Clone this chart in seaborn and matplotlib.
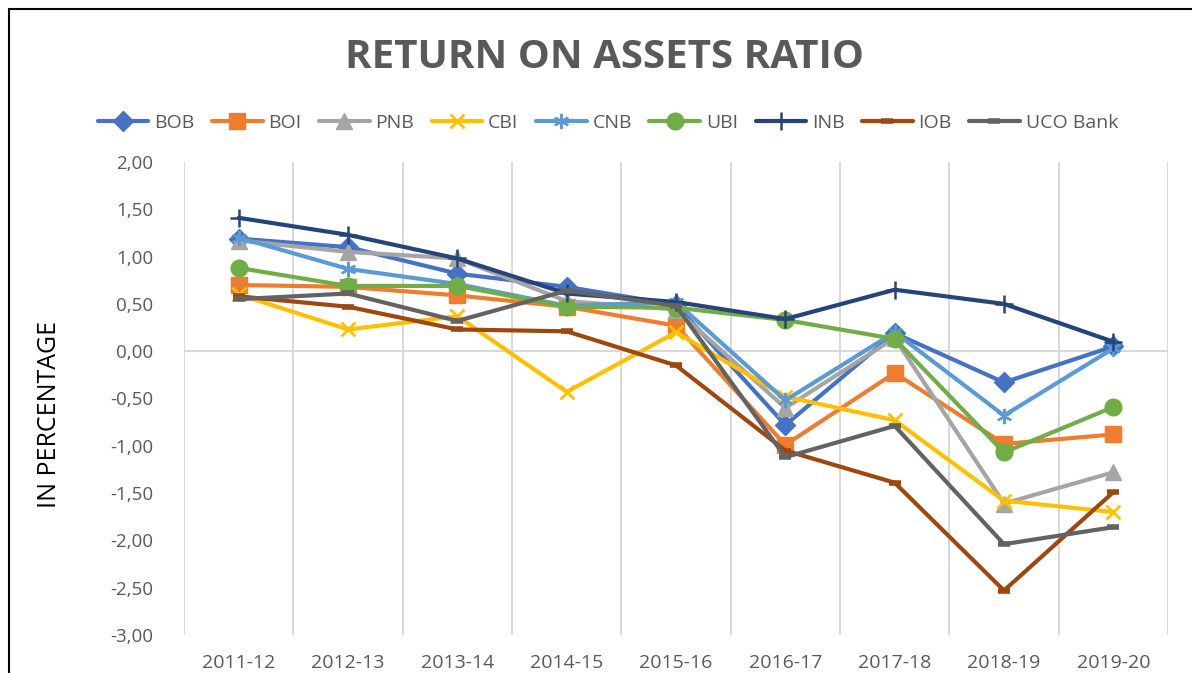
import matplotlib
matplotlib.use("Agg")
import matplotlib.pyplot as plt
import matplotlib.patches as patches
from matplotlib.ticker import FuncFormatter
import numpy as np
import seaborn as sns

years = ['2011-12', '2012-13', '2013-14', '2014-15', '2015-16',
         '2016-17', '2017-18', '2018-19', '2019-20']

bob = [1.19, 1.10, 0.82, 0.68, 0.49, -0.78, 0.19, -0.33, 0.05]
boi = [0.70, 0.68, 0.59, 0.47, 0.27, -0.99, -0.23, -0.98, -0.88]
pnb = [1.17, 1.05, 0.98, 0.53, 0.44, -0.60, 0.14, -1.61, -1.28]
cbi = [0.60, 0.23, 0.37, -0.43, 0.20, -0.48, -0.73, -1.58, -1.70]
cnb = [1.20, 0.87, 0.71, 0.48, 0.52, -0.52, 0.20, -0.68, 0.03]
ubi = [0.88, 0.69, 0.69, 0.47, 0.46, 0.33, 0.13, -1.07, -0.59]
inb = [1.41, 1.23, 0.98, 0.61, 0.52, 0.34, 0.65, 0.50, 0.10]
iob = [0.58, 0.47, 0.23, 0.21, -0.15, -1.05, -1.39, -2.53, -1.49]
uco = [0.55, 0.61, 0.32, 0.64, 0.48, -1.12, -0.79, -2.04, -1.86]

banks = ['BOB', 'BOI', 'PNB', 'CBI', 'CNB', 'UBI', 'INB', 'IOB', 'UCO Bank']
series = [bob, boi, pnb, cbi, cnb, ubi, inb, iob, uco]

colors = ['#4472C4', '#ED7D31', '#A5A5A5', '#FFC000', '#5B9BD5',
          '#70AD47', '#264478', '#9E480E', '#636363']
# marker, size, edge width
markers = [('D', 10, 1), ('s', 12, 1), ('^', 12, 1), ('x', 10, 2),
           ((6, 2, 0), 11, 1.6), ('o', 12, 1), ('+', 13, 1.8),
           ('_', 8, 4), ('_', 8, 4)]

sns.set_theme(style='white')
plt.rcParams['font.family'] = ['Open Sans', 'DejaVu Sans']

fig = plt.figure(figsize=(11.92, 6.73), dpi=100)
ax = fig.add_axes([184 / 1192, 38 / 673, (1168 - 184) / 1192, (635 - 162) / 673])

for b in np.arange(-0.5, len(years)):
    ax.axvline(b, color='#D9D9D9', lw=1.5, zorder=0)
ax.axhline(0, color='#D9D9D9', lw=1.5, zorder=0)

for name, vals, col, (m, ms, mew) in zip(banks, series, colors, markers):
    sns.lineplot(x=years, y=vals, ax=ax, color=col, label=name, sort=False,
                 linewidth=3, marker=m, markersize=ms,
                 markeredgecolor=col, markerfacecolor=col, markeredgewidth=mew)

ax.set_xlim(-0.5, len(years) - 0.5)
ax.set_ylim(-3, 2)
ax.set_yticks(np.arange(-3, 2.01, 0.5))
ax.yaxis.set_major_formatter(FuncFormatter(lambda v, p: f'{v:.2f}'.replace('.', ',')))
for s in ax.spines.values():
    s.set_visible(False)
ax.tick_params(axis='y', length=0, pad=22, labelsize=13.5, labelcolor='#595959')
ax.tick_params(axis='x', length=0, pad=14, labelsize=14, labelcolor='#595959')
ax.set_xlabel('')
ax.set_ylabel('')
ax.legend_.remove()

handles, labels = ax.get_legend_handles_labels()
fig.legend(handles, labels, loc='center', bbox_to_anchor=(0.51, 1 - 123 / 673),
           ncol=9, frameon=False, fontsize=14, labelcolor='#595959',
           handlelength=2.6, columnspacing=0.9, handletextpad=0.3)

fig.text(0.507, 1 - 57 / 673, 'RETURN ON ASSETS RATIO', ha='center', va='center',
         fontsize=29, fontweight='bold', color='#595959')
fig.text(50 / 1192, 1 - 414 / 673, 'IN PERCENTAGE', rotation=90, ha='center',
         va='center', fontsize=18, color='black')

fig.patches.append(patches.Rectangle((9 / 1192, -0.1), 2, 1.1 - 9 / 673,
                                     transform=fig.transFigure, fill=False,
                                     ec='black', lw=1.5))

fig.savefig('out.png', dpi=100)
